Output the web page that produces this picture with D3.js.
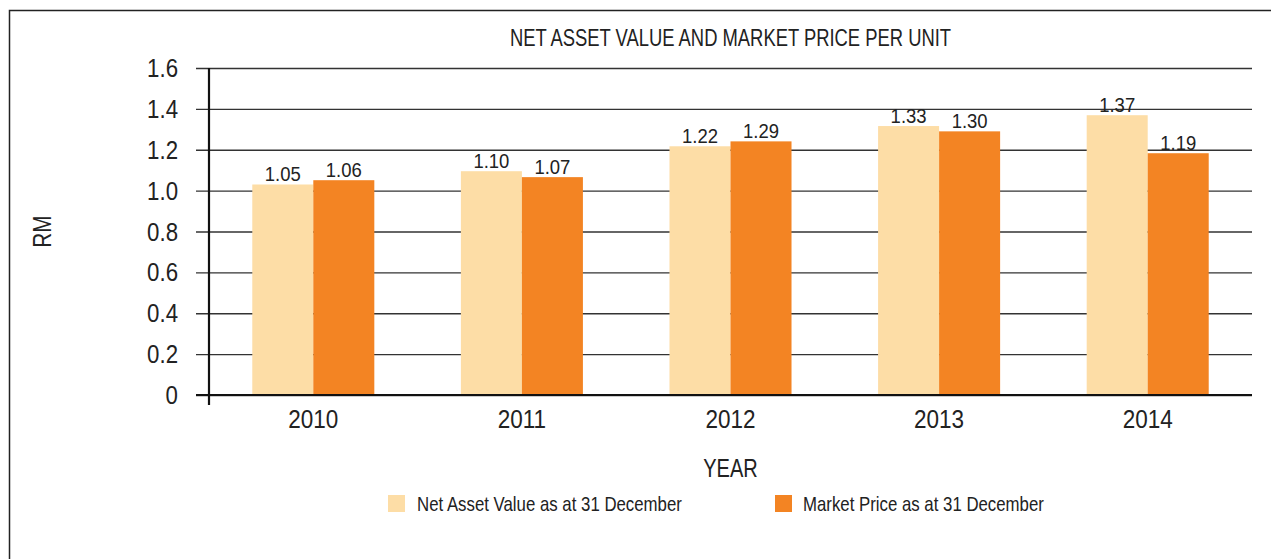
<!DOCTYPE html>
<html>
<head>
<meta charset="utf-8">
<script src="https://cdn.jsdelivr.net/npm/d3@7"></script>
<style>
body{margin:0;background:#fff;}
svg text{font-family:"Liberation Sans",Arial,sans-serif;fill:#222;}
</style>
</head>
<body>
<svg id="chart"></svg>
<script>
//data
var years=["2010","2011","2012","2013","2014"];
var navValues=[1.03,1.095,1.217,1.316,1.369];
var priceValues=[1.051,1.066,1.241,1.29,1.183];
var navLabels=["1.05","1.10","1.22","1.33","1.37"];
var priceLabels=["1.06","1.07","1.29","1.30","1.19"];
var yTicks=[0,0.2,0.4,0.6,0.8,1.0,1.2,1.4,1.6];
var seriesNames=["Net Asset Value as at 31 December","Market Price as at 31 December"];
var seriesColors=["#FDDDA6","#F38423"];

var width=1271, height=559;
var margin={top:68,right:19,bottom:164,left:209};

var svg=d3.select("#chart")
	.attr("width",width)
	.attr("height",height);

//no condensed font installed, so squeeze the text sideways
function pos(px,py,sx){
	return "translate("+px+","+py+") scale("+sx+",1)";
}

//outer frame, runs off right and bottom edge
svg.append("rect")
	.attr("x",9.5).attr("y",10.5)
	.attr("width",1400).attr("height",700)
	.attr("fill","none")
	.attr("stroke","#222")
	.attr("stroke-width",1.5);

var x=d3.scaleBand()
	.domain(years)
	.range([margin.left,width-margin.right])
	.paddingInner(0.415)
	.paddingOuter(0.2075);

var y=d3.scaleLinear()
	.domain([0,1.6])
	.range([height-margin.bottom,margin.top]);

//gridlines (these also make the left ticks)
var yAxis=d3.axisLeft(y)
	.tickValues(yTicks)
	.tickSize(width-margin.right-196)
	.tickFormat("");
var grid=svg.append("g")
	.attr("transform","translate("+(width-margin.right)+",0)");
grid.call(yAxis);
grid.select(".domain").remove();
grid.selectAll(".tick line")
	.attr("stroke","#333")
	.attr("stroke-width",1.3);

//tick labels
svg.append("g").selectAll("text")
	.data(yTicks)
	.enter().append("text")
	.attr("transform",function(d){return pos(178,y(d)+9,0.89);})
	.attr("text-anchor","end")
	.style("font-size","25px")
	.text(function(d){return d==0?"0":d.toFixed(1);});

//bars
var inner=d3.scaleBand()
	.domain([0,1])
	.range([0,x.bandwidth()]);

var groups=svg.append("g").selectAll("g")
	.data(years)
	.enter().append("g")
	.attr("transform",function(d){return "translate("+x(d)+",0)";});

groups.append("rect")
	.attr("x",inner(0))
	.attr("width",inner.bandwidth())
	.attr("y",function(d,i){return y(navValues[i]);})
	.attr("height",function(d,i){return y(0)-y(navValues[i]);})
	.attr("fill",seriesColors[0]);
groups.append("rect")
	.attr("x",inner(1))
	.attr("width",inner.bandwidth())
	.attr("y",function(d,i){return y(priceValues[i]);})
	.attr("height",function(d,i){return y(0)-y(priceValues[i]);})
	.attr("fill",seriesColors[1]);

//value labels
groups.append("text")
	.attr("transform",function(d,i){return pos(inner(0)+inner.bandwidth()/2,y(navValues[i])-3,0.88);})
	.attr("text-anchor","middle")
	.style("font-size","21px")
	.text(function(d,i){return navLabels[i];});
groups.append("text")
	.attr("transform",function(d,i){return pos(inner(1)+inner.bandwidth()/2,y(priceValues[i])-3,0.88);})
	.attr("text-anchor","middle")
	.style("font-size","21px")
	.text(function(d,i){return priceLabels[i];});

//axis lines
svg.append("line")
	.attr("x1",196).attr("x2",width-margin.right)
	.attr("y1",y(0)).attr("y2",y(0))
	.attr("stroke","#111").attr("stroke-width",2.2);
svg.append("line")
	.attr("x1",margin.left).attr("x2",margin.left)
	.attr("y1",y(1.6)).attr("y2",y(0)+10)
	.attr("stroke","#111").attr("stroke-width",2.2);

//x labels
svg.append("g").selectAll("text")
	.data(years)
	.enter().append("text")
	.attr("transform",function(d){return pos(x(d)+x.bandwidth()/2,428,0.9);})
	.attr("text-anchor","middle")
	.style("font-size","25px")
	.text(function(d){return d;});

//titles
var cx=(margin.left+width-margin.right)/2;
svg.append("text")
	.attr("transform",pos(cx,46,0.8))
	.attr("text-anchor","middle")
	.style("font-size","23px")
	.text("NET ASSET VALUE AND MARKET PRICE PER UNIT");
svg.append("text")
	.attr("transform",pos(cx,477,0.77))
	.attr("text-anchor","middle")
	.style("font-size","26px")
	.text("YEAR");
svg.append("text")
	.attr("transform","translate(51,"+((y(0)+y(1.6))/2)+") rotate(-90) scale(0.8,1)")
	.attr("text-anchor","middle")
	.style("font-size","26px")
	.text("RM");

//legend
var legendX=[388,775];
var legend=svg.append("g").selectAll("g")
	.data(seriesNames)
	.enter().append("g")
	.attr("transform",function(d,i){return "translate("+legendX[i]+",495)";});
legend.append("rect")
	.attr("width",17).attr("height",17)
	.attr("fill",function(d,i){return seriesColors[i];});
legend.append("text")
	.attr("transform",function(d,i){return pos(i==0?29:28,16,0.82);})
	.style("font-size","20.5px")
	.text(function(d){return d;});
</script>
</body>
</html>
